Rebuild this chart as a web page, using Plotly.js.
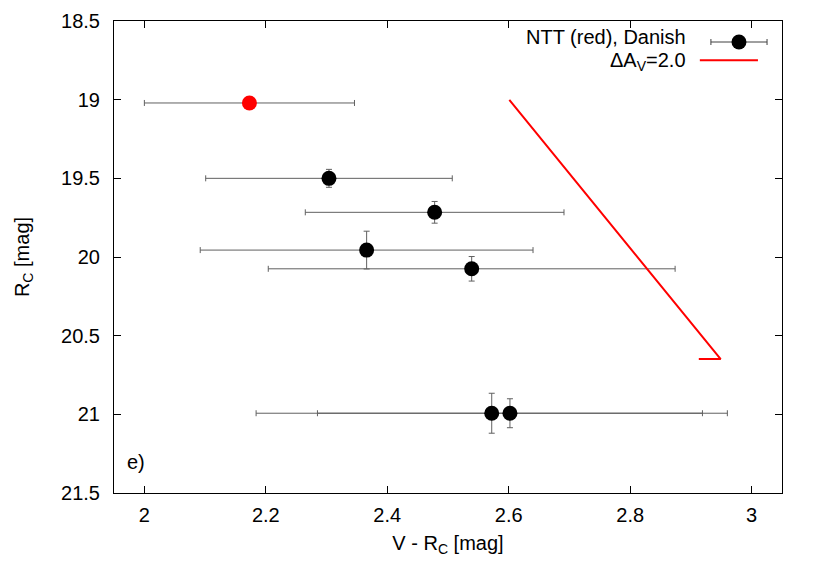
<!DOCTYPE html>
<html>
<head>
<meta charset="utf-8">
<script src="https://cdn.plot.ly/plotly-3.0.1.min.js"></script>
<style>html,body{margin:0;padding:0;background:#fff;}#chart{width:830px;height:581px;}</style>
</head>
<body>
<div id="chart"></div>
<script>
// Data
const colorVR   = [2.173, 2.304, 2.478, 2.366, 2.539, 2.572, 2.602];
const colorErr  = [0.173, 0.203, 0.213, 0.274, 0.335, 0.388, 0.317];
const magR      = [19.021, 19.50, 19.716, 19.956, 20.075, 20.993, 20.993];
const magErr    = [0.035, 0.057, 0.069, 0.12, 0.078, 0.127, 0.092];
const pointColors = ['#ff0000', '#000000', '#000000', '#000000', '#000000', '#000000', '#000000'];
// Reddening vector (dA_V = 2.0)
const vecX = [2.601, 2.949, 2.913];
const vecY = [19.002, 20.649, 20.649];

const font = {family: 'Liberation Sans, Arial, sans-serif', size: 20, color: '#000'};

const traces = [
  {
    x: colorVR, y: magR, type: 'scatter', mode: 'markers',
    marker: {size: 15, color: pointColors},
    error_x: {type: 'data', array: colorErr, visible: true, color: '#606060', thickness: 1, width: 3},
    error_y: {type: 'data', array: magErr, visible: true, color: '#606060', thickness: 1, width: 3},
    showlegend: false, hoverinfo: 'x+y'
  },
  {
    x: vecX, y: vecY, type: 'scatter', mode: 'lines',
    line: {color: '#ff0000', width: 2}, showlegend: false
  },
  // legend samples (drawn on a hidden unit overlay)
  {
    x: [0.9356], y: [0.9555], xaxis: 'x2', yaxis: 'y2', type: 'scatter', mode: 'markers',
    marker: {size: 15, color: '#000'},
    error_x: {type: 'constant', value: 0.042, visible: true, color: '#404040', thickness: 1, width: 3},
    showlegend: false, hoverinfo: 'skip'
  },
  {
    x: [0.877, 0.964], y: [0.917, 0.917], xaxis: 'x2', yaxis: 'y2', type: 'scatter', mode: 'lines',
    line: {color: '#ff0000', width: 2}, showlegend: false, hoverinfo: 'skip'
  }
];

const layout = {
  width: 830, height: 581,
  margin: {l: 114, r: 48, t: 21, b: 88},
  paper_bgcolor: '#fff', plot_bgcolor: '#fff',
  font: font,
  showlegend: false,
  xaxis: {
    range: [1.95, 3.05], tickvals: [2, 2.2, 2.4, 2.6, 2.8, 3], ticktext: ['2','2.2','2.4','2.6','2.8','3'],
    ticks: 'inside', ticklen: 7, tickcolor: '#000', showline: true, linecolor: '#000', linewidth: 1,
    mirror: 'ticks', showgrid: false, zeroline: false, tickfont: font, ticklabelstandoff: 4,
    automargin: false,
    title: {text: 'V - R<sub>C</sub> [mag]', font: font, standoff: 10}
  },
  yaxis: {
    range: [21.5, 18.5], tickvals: [18.5, 19, 19.5, 20, 20.5, 21, 21.5],
    ticktext: ['18.5','19','19.5','20','20.5','21','21.5'],
    ticks: 'inside', ticklen: 7, tickcolor: '#000', showline: true, linecolor: '#000', linewidth: 1,
    mirror: 'ticks', showgrid: false, zeroline: false, tickfont: font, ticklabelstandoff: 9,
    automargin: false,
    title: {text: 'R<sub>C</sub> [mag]', font: font, standoff: 26}
  },
  xaxis2: {overlaying: 'x', range: [0, 1], visible: false, fixedrange: true},
  yaxis2: {overlaying: 'y', range: [0, 1], visible: false, fixedrange: true},
  annotations: [
    {xref: 'paper', yref: 'paper', x: 0.859, y: 0.966, xanchor: 'right', yanchor: 'middle',
     text: 'NTT (red), Danish', showarrow: false, font: font},
    {xref: 'paper', yref: 'paper', x: 0.859, y: 0.914, xanchor: 'right', yanchor: 'middle',
     text: 'ΔA<sub>V</sub>=2.0', showarrow: false, font: font},
    {xref: 'paper', yref: 'paper', x: 0.016, y: 0.065, xanchor: 'left', yanchor: 'middle',
     text: 'e)', showarrow: false, font: font}
  ]
};

Plotly.newPlot('chart', traces, layout, {staticPlot: true, displayModeBar: false});
</script>
</body>
</html>
